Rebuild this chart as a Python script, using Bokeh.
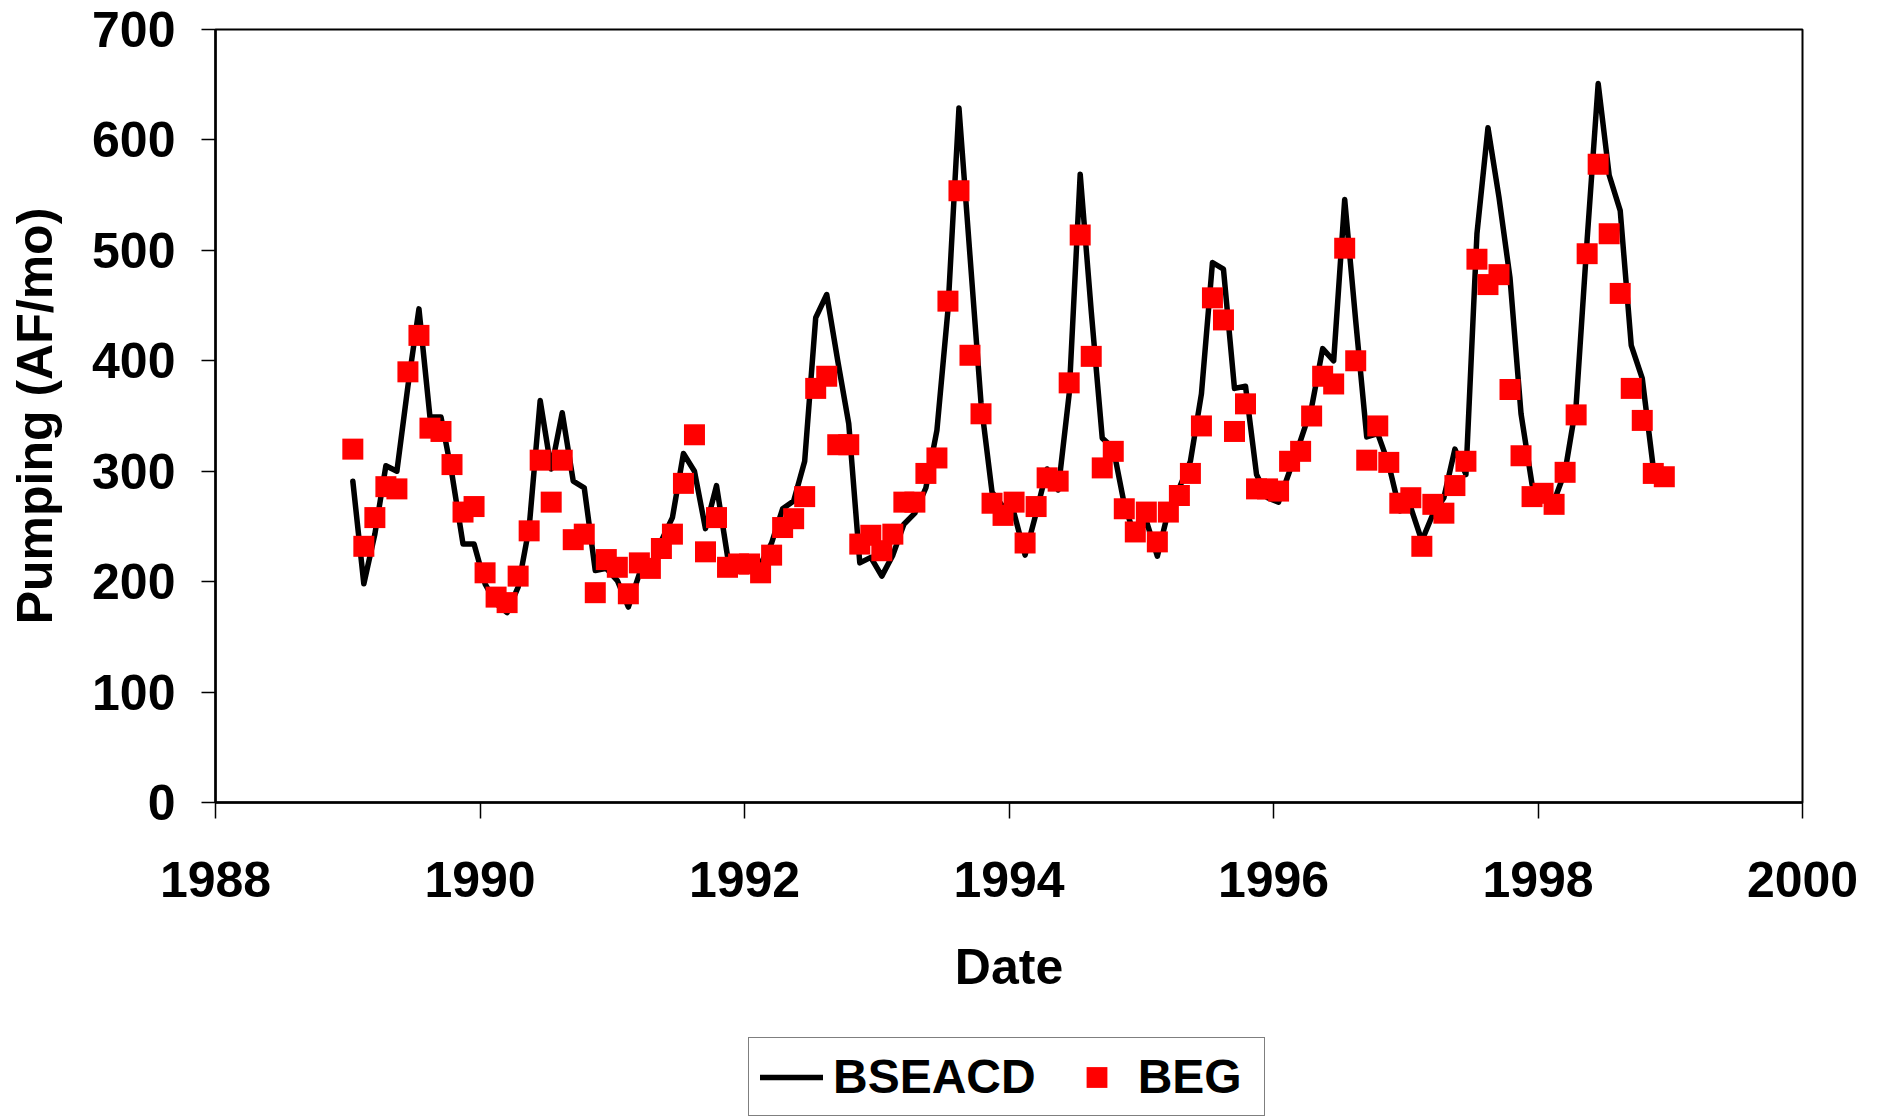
import numpy as np
from bokeh.plotting import figure
from bokeh.layouts import column
from bokeh.models import Range1d, FixedTicker, Legend, LegendItem, ColumnDataSource
from bokeh.embed import file_html
from bokeh.resources import INLINE

# ---- data (monthly) ----
years = list(range(1989, 1999))
months = list(range(1, 13))

beg_values = [
    320, 232, 258, 286, 284, 390, 423, 339, 336, 306, 263, 268,   # 1989
    208, 186, 181, 205, 246, 310, 272, 310, 238, 243, 190, 220,   # 1990
    213, 189, 217, 212, 230, 243, 289, 333, 227, 258, 213, 216,   # 1991
    216, 208, 224, 249, 257, 277, 375, 386, 324, 324, 234, 242,   # 1992
    228, 243, 272, 272, 298, 312, 454, 554, 405, 352, 271, 260,   # 1993
    272, 235, 268, 294, 291, 380, 514, 404, 303, 318, 266, 245,   # 1994
    263, 236, 263, 278, 298, 341, 457, 437, 336, 361, 284, 284,   # 1995
    282, 309, 318, 350, 386, 379, 502, 400, 310, 341, 308, 271,   # 1996
    276, 232, 270, 262, 287, 309, 492, 469, 478, 374, 314, 277,   # 1997
    280, 270, 299, 351, 497, 578, 515, 461, 375, 346, 298, 295,   # 1998
]

bseacd_values = [
    291, 198, 243, 305, 300, 377, 447, 349, 349, 297, 234, 234,   # 1989
    198, 180, 172, 195, 249, 364, 302, 353, 291, 285, 210, 212,   # 1990
    201, 177, 207, 210, 237, 258, 316, 300, 248, 287, 223, 219,   # 1991
    216, 216, 235, 266, 273, 309, 439, 460, 400, 343, 217, 222,   # 1992
    205, 224, 252, 262, 285, 337, 446, 629, 495, 362, 281, 268,   # 1993
    262, 224, 262, 302, 283, 370, 569, 445, 330, 321, 270, 240,   # 1994
    255, 223, 264, 285, 309, 370, 489, 483, 375, 377, 297, 276,   # 1995
    272, 300, 328, 358, 411, 400, 546, 436, 331, 334, 306, 264,   # 1996
    267, 237, 261, 276, 320, 297, 515, 611, 548, 475, 352, 288,   # 1997
    276, 273, 300, 360, 510, 651, 568, 536, 414, 384, 303,        # 1998 (Jan-Nov)
]

x_ticks = [1988, 1990, 1992, 1994, 1996, 1998, 2000]
y_ticks = [0, 100, 200, 300, 400, 500, 600, 700]

# decimal dates (15th of each month)
dates = np.array([y + (m - 1) / 12 + 14 / 365 for y in years for m in months])

beg_src = ColumnDataSource(dict(x=dates, y=beg_values))
bse_src = ColumnDataSource(dict(x=dates[:len(bseacd_values)], y=bseacd_values))

FONT = "Liberation Sans"
LINE_STYLE = dict(line_color="black", line_width=5.5, line_join="round", line_cap="round")
SQ_STYLE = dict(marker="square", size=21, fill_color="#FF0000", line_color=None)

LEGEND_H = 90

p = figure(width=1881, height=1118 - LEGEND_H,
           x_range=Range1d(1988, 2000), y_range=Range1d(0, 700),
           output_backend="svg", toolbar_location=None,
           min_border_left=215, min_border_right=79,
           min_border_top=29, min_border_bottom=1118 - LEGEND_H - 802)

p.background_fill_color = "white"
p.border_fill_color = "white"
p.outline_line_color = "black"
p.outline_line_width = 2
p.xgrid.visible = False
p.ygrid.visible = False

p.line("x", "y", source=bse_src, **LINE_STYLE)
p.scatter("x", "y", source=beg_src, **SQ_STYLE)

for ax in (p.xaxis[0], p.yaxis[0]):
    ax.axis_line_color = "black"
    ax.axis_line_width = 2.5
    ax.major_tick_line_color = "black"
    ax.major_tick_line_width = 1.5
    ax.major_tick_in = 0
    ax.minor_tick_line_color = None
    ax.major_label_text_font = FONT
    ax.major_label_text_font_style = "bold"
    ax.major_label_text_font_size = "50px"
    ax.major_label_text_color = "black"
    ax.axis_label_text_font = FONT
    ax.axis_label_text_font_style = "bold"
    ax.axis_label_text_font_size = "50px"
    ax.axis_label_text_color = "black"

p.xaxis.ticker = FixedTicker(ticks=x_ticks)
p.yaxis.ticker = FixedTicker(ticks=y_ticks)
p.xaxis.major_tick_out = 16
p.yaxis.major_tick_out = 14
p.xaxis.major_label_standoff = 43
p.yaxis.major_label_standoff = 26
p.xaxis.axis_label = "Date"
p.yaxis.axis_label = "Pumping (AF/mo)"
p.xaxis.axis_label_standoff = 39
p.yaxis.axis_label_standoff = 26

# ---- legend strip below the chart (same series, ranges keep them out of view) ----
p2 = figure(width=1881, height=LEGEND_H, x_range=Range1d(0, 1), y_range=Range1d(0, 1),
            output_backend="svg", toolbar_location=None,
            x_axis_location=None, y_axis_location=None, min_border=0)
p2.outline_line_color = None
p2.grid.visible = False
p2.background_fill_color = "white"
p2.border_fill_color = "white"
leg_line = p2.line("x", "y", source=bse_src, **LINE_STYLE)
leg_sq = p2.scatter("x", "y", source=beg_src, **SQ_STYLE)

legend = Legend(items=[LegendItem(label="BSEACD", renderers=[leg_line]),
                       LegendItem(label="BEG", renderers=[leg_sq])],
                location=(533, 2), orientation="horizontal",
                label_text_font=FONT, label_text_font_style="bold",
                label_text_font_size="48px", label_text_color="black",
                glyph_width=63, glyph_height=52, label_standoff=10,
                label_width=115, spacing=29, padding=11, margin=0,
                border_line_color="black", border_line_width=1.5,
                background_fill_color="white", background_fill_alpha=1.0)
p2.add_layout(legend)

layout = column(p, p2, spacing=0)
open("out.html", "w").write(file_html(layout, INLINE))
